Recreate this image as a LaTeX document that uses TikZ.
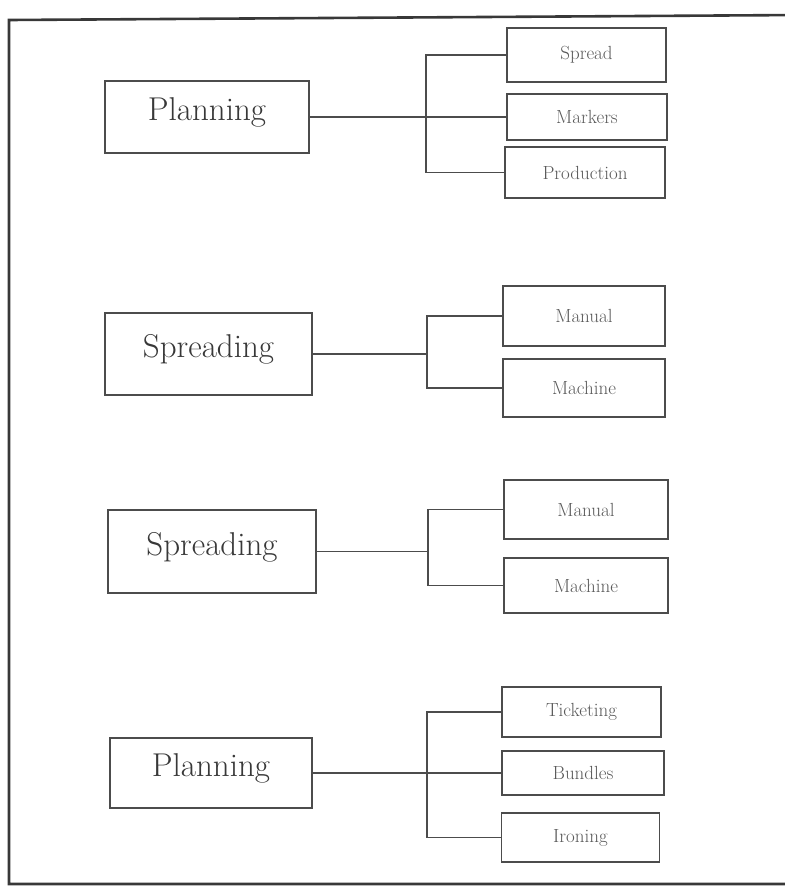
\documentclass[tikz,border=0pt]{standalone}
\usepackage{tikz}
\usetikzlibrary{arrows.meta}

\definecolor{inkline}{gray}{0.3}
\definecolor{inktext}{gray}{0.22}
\definecolor{inksmall}{gray}{0.35}

\begin{document}
\begin{tikzpicture}[x=1pt,y=-1pt]
	\useasboundingbox (0,0) rectangle (785,887);
	% outer frame, open on the right
	\draw[inktext,line width=2.6pt] (800,15) -- (9,20) -- (9,884) -- (800,884);

	\begin{scope}[every node/.style={rectangle,draw=inkline,line width=1.3pt,
	              text=inktext,font=\fontsize{33}{38}\selectfont,inner sep=0pt,text depth=16pt}]
		\node[minimum width=204,minimum height=72] (p1) at (207,117) {Planning};
		\node[minimum width=207,minimum height=82] (s2) at (208.5,354) {Spreading};
		\node[minimum width=208,minimum height=83] (s3) at (212,551.5) {Spreading};
		\node[minimum width=202,minimum height=70] (p4) at (211,773) {Planning};
	\end{scope}

	\begin{scope}[every node/.style={rectangle,draw=inkline,line width=1.2pt,
	              text=inksmall,font=\fontsize{19}{22}\selectfont,inner sep=0pt}]
		\node[minimum width=159,minimum height=54] (a1) at (586.5,55) {Spread};
		\node[minimum width=160,minimum height=46] (a2) at (587,117) {Markers};
		\node[minimum width=160,minimum height=51] (a3) at (585,172.5) {Production};
		\node[minimum width=162,minimum height=60] (b1) at (584,316) {Manual};
		\node[minimum width=162,minimum height=58] (b2) at (584,388) {Machine};
		\node[minimum width=164,minimum height=59] (c1) at (586,509.5) {Manual};
		\node[minimum width=164,minimum height=55] (c2) at (586,585.5) {Machine};
		\node[minimum width=159,minimum height=50] (d1) at (581.5,712) {Ticketing};
		\node[minimum width=162,minimum height=44] (d2) at (583,773) {Bundles};
		\node[minimum width=158,minimum height=49] (d3) at (580.5,837.5) {Ironing};
	\end{scope}

	\coordinate (j1) at (426,117);
	\coordinate (j2) at (427,354);
	\coordinate (j3) at (428,551.5);
	\coordinate (j4) at (427,773);

	\begin{scope}[every path/.style={draw=inkline,line width=1.1pt}]
		\draw (p1) -- (j1) -- (a2);
		\draw (a1.west) -| (j1) |- (a3.west);
		\draw (s2) -- (j2);
		\draw (b1.west) -| (j2) |- (b2.west);
		\draw (s3) -- (j3);
		\draw (c1.west) -| (j3) |- (c2.west);
		\draw (p4) -- (j4) -- (d2);
		\draw (d1.west) -| (j4) |- (d3.west);
	\end{scope}
\end{tikzpicture}
\end{document}
